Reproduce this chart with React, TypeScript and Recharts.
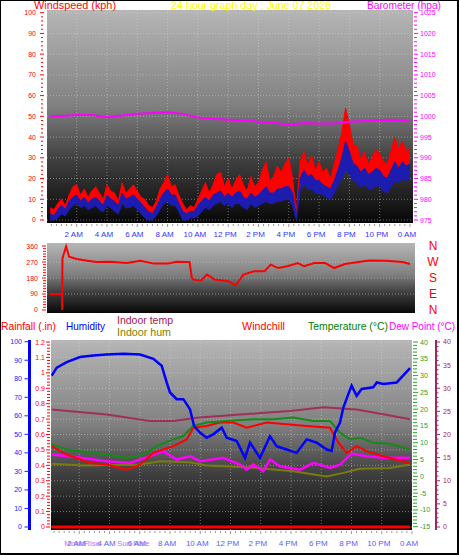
import React from 'react';
import { ComposedChart, Line, Area, XAxis, YAxis, CartesianGrid } from 'recharts';

const FONT = '"Liberation Sans", Arial, Helvetica, sans-serif';

// ---------- top panel: windspeed (kph) + barometer (hpa) ----------
const windHours = [
  0.25, 0.5, 0.75, 1, 1.25, 1.5, 1.75, 2, 2.25, 2.5, 2.75, 3, 3.25, 3.5, 3.75, 4, 4.25, 4.5, 4.75, 5, 5.25, 5.5, 5.75, 6,
  6.25, 6.5, 6.75, 7, 7.25, 7.5, 7.75, 8, 8.25, 8.5, 8.75, 9, 9.25, 9.5, 9.75, 10, 10.25, 10.5, 10.75, 11, 11.25, 11.5, 11.75, 12,
  12.25, 12.5, 12.75, 13, 13.25, 13.5, 13.75, 14, 14.25, 14.5, 14.75, 15, 15.25, 15.5, 15.75, 16, 16.25, 16.5, 16.75, 17, 17.25, 17.5, 17.75, 18,
  18.25, 18.5, 18.75, 19, 19.25, 19.5, 19.75, 20, 20.25, 20.5, 20.75, 21, 21.25, 21.5, 21.75, 22, 22.25, 22.5, 22.75, 23, 23.25, 23.5, 23.75, 24,
];
const gustHigh = [
  6, 5, 8, 10, 7, 12, 16, 17, 12, 15, 11, 14, 16, 13, 10, 17, 14, 13, 9, 18, 13, 15, 17, 14,
  11, 10, 7, 6, 9, 15, 18, 22, 16, 17, 12, 8, 5, 7, 6, 10, 14, 18, 13, 17, 22, 23, 16, 20,
  15, 19, 22, 17, 14, 21, 16, 18, 24, 28, 19, 21, 26, 23, 27, 30, 20, 4, 28, 33, 26, 31, 24, 28,
  23, 25, 20, 27, 34, 42, 54, 46, 36, 36, 29, 33, 27, 30, 34, 32, 28, 27, 33, 40, 34, 38, 33, 35,
];
const windHigh = [
  3, 2, 5, 7, 5, 9, 11, 12, 9, 11, 8, 10, 11, 9, 7, 12, 10, 9, 7, 13, 10, 11, 12, 10,
  8, 6, 4, 3, 6, 10, 13, 15, 12, 12, 8, 4, 3, 4, 4, 7, 9, 11, 9, 12, 13, 14, 11, 13,
  11, 13, 14, 11, 10, 13, 11, 12, 14, 16, 13, 13, 15, 15, 16, 16, 13, 2, 20, 24, 21, 22, 19, 19,
  17, 16, 15, 19, 24, 30, 38, 33, 27, 26, 23, 25, 22, 23, 25, 24, 21, 20, 24, 28, 25, 28, 26, 27,
];
const windLow = [
  0, 0, 1, 3, 2, 5, 7, 8, 6, 7, 5, 6, 7, 5, 4, 7, 6, 4, 3, 8, 6, 6, 7, 5,
  3, 1, 0, 0, 2, 5, 8, 9, 7, 7, 4, 0, 0, 1, 1, 2, 4, 6, 5, 7, 8, 9, 7, 8,
  6, 8, 8, 6, 5, 8, 6, 7, 8, 9, 8, 8, 9, 9, 10, 10, 7, 0, 14, 17, 15, 15, 13, 13,
  12, 11, 10, 13, 17, 20, 24, 22, 19, 18, 16, 17, 15, 15, 17, 16, 14, 13, 16, 19, 18, 20, 19, 20,
];

const baroHours = [0.25, 1, 2, 3, 4, 5, 6, 7, 8, 9, 10, 11, 12, 13, 14, 15, 16, 17, 18, 19, 20, 21, 22, 23, 24];
const barometer = [1000.0, 1000.1, 1000.3, 1000.3, 999.8, 1000.2, 1000.6, 1000.8, 1001.0, 1000.6, 999.7, 999.4, 999.2, 999.0, 998.7, 998.5, 997.9, 998.4, 998.3, 998.3, 998.7, 998.9, 999.1, 999.2, 998.8];

// ---------- middle panel: wind direction ----------
const dirHours = [0.24, 1.03, 1.04, 1.06, 1.3, 1.5, 2.0, 2.6, 3.3, 4.2, 5.3, 6.2, 7.1, 8.0, 8.6, 9.3, 9.45, 9.6, 9.7, 10.2, 10.6, 11.1, 12.0, 12.5, 13.0, 13.7, 14.4, 14.8, 15.3, 15.9, 16.6, 17.0, 17.7, 18.4, 19.0, 19.7, 20.6, 21.3, 22.4, 23.5, 24.0];
const dirDeg = [90, 90, 0, 290, 358, 300, 287, 279, 270, 272, 264, 277, 261, 261, 272, 270, 270, 180, 171, 165, 199, 171, 162, 138, 199, 218, 218, 255, 236, 246, 264, 246, 264, 264, 236, 259, 270, 279, 277, 270, 259];
const compassDeg = [0, 90, 180, 270, 360];
const compassLabels = ['N', 'E', 'S', 'W', 'N'];

// ---------- bottom panel ----------
const humHours = [0.18, 0.51, 1.17, 2.05, 2.93, 3.81, 4.92, 6.02, 6.9, 7.45, 7.78, 8.0, 8.44, 8.88, 9.32, 9.59, 9.98, 10.42, 10.86, 11.42, 11.75, 12.41, 12.96, 13.29, 13.95, 14.61, 15.05, 15.71, 16.37, 17.04, 17.7, 18.36, 18.69, 18.91, 19.24, 19.46, 19.79, 20.01, 20.34, 20.67, 21.44, 21.67, 22.1, 22.99, 23.87];
const humidity = [81.7, 86, 89, 91.7, 92.5, 93.1, 93.5, 93.1, 90.8, 87, 78, 72.6, 69, 69, 63.6, 54.5, 51, 48.2, 50, 53.6, 48.2, 46.4, 37.3, 45.5, 37.3, 49, 43.6, 41.8, 40, 47.3, 45.5, 41.8, 41, 51, 56.4, 64.5, 71.7, 76.3, 70.8, 74.5, 75.4, 78, 77.2, 78, 85.7];

const tempHours = [0.18, 1.17, 3.81, 5.14, 6.24, 7.12, 8.22, 8.88, 9.54, 10.42, 11.75, 13.51, 14.83, 16.15, 17.48, 18.58, 19.24, 19.9, 20.56, 21.44, 22.55, 23.87];
const temperature = [9.5, 8.0, 6.5, 5.5, 6.5, 9.0, 11.0, 12.0, 15.0, 16.0, 16.5, 17.0, 17.0, 17.5, 16.5, 16.5, 13.0, 11.0, 11.5, 10.0, 9.7, 8.0];

const chillHours = [0.18, 1.17, 2.71, 3.81, 4.69, 5.14, 6.02, 6.9, 8.22, 9.1, 9.54, 10.42, 11.31, 12.19, 13.07, 14.39, 15.71, 17.04, 18.58, 19.13, 19.68, 20.34, 21.0, 22.1, 23.87];
const windchill = [9.0, 6.5, 4.0, 3.5, 2.5, 2.0, 3.5, 7.0, 9.0, 11.0, 14.5, 15.0, 16.0, 16.0, 14.5, 16.0, 15.5, 15.0, 14.5, 10.0, 7.0, 9.0, 7.5, 6.0, 4.0];

const dewHours = [0.18, 1.61, 3.81, 5.36, 6.68, 7.56, 8.44, 9.32, 9.98, 11.53, 12.63, 13.07, 13.51, 14.17, 14.61, 15.27, 16.6, 17.48, 18.58, 19.24, 20.01, 21.0, 22.1, 23.87];
const dewPoint = [6.5, 5.8, 4.5, 4.0, 6.0, 7.5, 5.0, 6.0, 4.5, 5.5, 3.5, 2.0, 3.5, 1.5, 5.0, 3.0, 2.0, 4.0, 2.5, 3.5, 6.8, 6.0, 5.5, 5.5];

const inTempHours = [0.18, 3.81, 6.68, 8.22, 9.76, 12.63, 15.93, 18.14, 20.34, 22.55, 23.87];
const indoorTemp = [25.4, 24.3, 22.9, 22.9, 23.6, 24.3, 25.1, 25.9, 25.4, 24.1, 23.3];

const inHumHours = [0.18, 2.27, 6.02, 7.34, 9.32, 10.42, 13.73, 16.15, 18.36, 19.46, 20.56, 22.55, 23.87];
const indoorHum = [34.2, 33.2, 33.7, 35.5, 35, 33.2, 31.9, 30.1, 27.3, 29.2, 31.4, 31.9, 33.7];

const rainHours = [0.18, 23.87];
const rainfall = [0, 0];

// time axis labels
const labelHours = [2, 4, 6, 8, 10, 12, 14, 16, 18, 20, 22, 24];
const hourLabels = ['2 AM', '4 AM', '6 AM', '8 AM', '10 AM', '12 PM', '2 PM', '4 PM', '6 PM', '8 PM', '10 PM', '0 AM'];
const eventHours = [2.2, 5.56];
const eventLabels = ['MoonRise', 'Sun Rise'];

// helpers
const steps = (from: number, to: number, step: number) => {
  const out: number[] = [];
  const n = Math.round((to - from) / step);
  for (let i = 0; i <= n; i++) out.push(Math.round((from + i * step) * 1000) / 1000);
  return out;
};
const isMult = (v: number, step: number) => Math.abs(v / step - Math.round(v / step)) < 1e-6;
const zip = (hours: number[], values: number[]) => hours.map((t, i) => ({ t, v: values[i] }));

const minorHours = Array.from({ length: 72 }, (_, i) => (i + 1) / 3);
const gridHours = [2, 4, 6, 8, 10, 12, 14, 16, 18, 20, 22];

// gust band sits on top of the mean-speed band
const windData = windHours.map((t, i) => ({ t, gust: [windHigh[i], gustHigh[i]], wind: [windLow[i], windHigh[i]] }));

const hourText = (v: number) => {
  const h = Math.round(v);
  if (Math.abs(v - h) > 0.01) return null;
  const idx = labelHours.indexOf(h);
  return idx >= 0 ? hourLabels[idx] : null;
};

const TopHourTick = (p: any) => {
  const { x, y, payload } = p;
  const label = hourText(payload.value);
  return (
    <g>
      <line x1={x} x2={x} y1={y + 1} y2={y + (label ? 4 : 3)} stroke="#9a9a9a" />
      {label && (
        <text x={x - 3} y={y + 14} textAnchor="middle" fontSize={8} fill="#3333ff" fontFamily={FONT}>{label}</text>
      )}
    </g>
  );
};

const BottomHourTick = (p: any) => {
  const { x, y, payload } = p;
  const ev = eventHours.indexOf(payload.value);
  if (ev >= 0) {
    return (
      <text x={x} y={y + 15.5} textAnchor="middle" fontSize={8} fill="#b477ff" fontFamily={FONT}>{eventLabels[ev]}</text>
    );
  }
  const label = hourText(payload.value);
  return (
    <g>
      <line x1={x} x2={x} y1={y + 1} y2={y + (label ? 4 : 3)} stroke="#9a9a9a" />
      {label && (
        <text x={x - 3} y={y + 15.5} textAnchor="middle" fontSize={8} fill="#5a5aff" fontFamily={FONT}>{label}</text>
      )}
    </g>
  );
};

// generic y tick: side = -1 for left axes, 1 for right axes
const makeYTick = (opts: {
  side: number; color: string; major: number; t0: number; t1: number; minor0: number; minor1: number; gap: number; fmt?: (v: number) => string;
}) => (p: any) => {
  const { x, y, payload } = p;
  const v = payload.value;
  const isMajor = isMult(v, opts.major);
  const s = opts.side;
  return (
    <g>
      <line
        x1={x + s * (isMajor ? opts.t0 : opts.minor0)}
        x2={x + s * (isMajor ? opts.t1 : opts.minor1)}
        y1={y}
        y2={y}
        stroke={opts.color}
      />
      {isMajor && (
        <text x={x + s * opts.gap} y={y} dy={2.5} textAnchor={s < 0 ? 'end' : 'start'} fontSize={7} fill={opts.color} fontFamily={FONT}>
          {opts.fmt ? opts.fmt(v) : String(v)}
        </text>
      )}
    </g>
  );
};

const windTick = makeYTick({ side: -1, color: '#ff0000', major: 10, t0: 7, t1: 3, minor0: 6, minor1: 4, gap: 11 });
const baroTick = makeYTick({ side: 1, color: '#ff00ff', major: 5, t0: 1, t1: 5, minor0: 1, minor1: 4, gap: 7 });
const dirTick = makeYTick({ side: -1, color: '#ff0000', major: 90, t0: 5, t1: 1, minor0: 4, minor1: 1, gap: 9 });
const humTick = makeYTick({ side: -1, color: '#2020ff', major: 10, t0: 5, t1: 0, minor0: 0, minor1: 0, gap: 7.5 });
const rainTick = makeYTick({
  side: -1, color: '#ff0000', major: 0.1, t0: 5, t1: 1, minor0: 4, minor1: 1, gap: 6,
  fmt: (v) => String(Math.round(v * 10) / 10),
});
const tempTick = makeYTick({ side: 1, color: '#28a028', major: 5, t0: 1, t1: 6, minor0: 1, minor1: 5, gap: 8 });
const inTempTick = makeYTick({ side: 1, color: '#a0285a', major: 5, t0: 0, t1: 4, minor0: 0, minor1: 2.5, gap: 7 });

const CompassTick = (p: any) => {
  const { x, y, payload } = p;
  const idx = compassDeg.indexOf(payload.value);
  return (
    <text x={x + 18} y={y} dy={4} textAnchor="middle" fontSize={12} fill="#ff0000" fontFamily={FONT}>
      {compassLabels[idx]}
    </text>
  );
};

const BgGradient: React.FC<{ id: string }> = ({ id }) => (
  <linearGradient id={id} x1="0" y1="0" x2="0" y2="1">
    <stop offset="0%" stopColor="#b6b6b6" />
    <stop offset="45%" stopColor="#808080" />
    <stop offset="70%" stopColor="#404040" />
    <stop offset="100%" stopColor="#070707" />
  </linearGradient>
);

const gridStyle = { stroke: '#dcdcdc', strokeOpacity: 0.45, strokeDasharray: '1 2' };

const headers = [
  { text: 'Windspeed (kph)', x: 34, y: 9, len: 82, size: 11, color: '#ff0000' },
  { text: '24 hour graph day : June 07 2026', x: 171, y: 9, len: 160, size: 11, color: '#ffff00' },
  { text: 'Barometer (hpa)', x: 367, y: 9, len: 74, size: 11, color: '#ff00ff' },
  { text: 'Rainfall (.in)', x: 1, y: 330, len: 55, size: 11, color: '#ff0000' },
  { text: 'Humidity', x: 66, y: 330, len: 39, size: 11, color: '#0000ff' },
  { text: 'Indoor temp', x: 117, y: 323.5, len: 56, size: 11, color: '#a01850' },
  { text: 'Indoor hum', x: 117, y: 335.5, len: 54, size: 11, color: '#808000' },
  { text: 'Windchill', x: 242, y: 330, len: 43, size: 11, color: '#ff0000' },
  { text: 'Temperature (°C)', x: 308, y: 330, len: 80, size: 11, color: '#008000' },
  { text: 'Dew Point (°C)', x: 389, y: 330, len: 66, size: 10, color: '#ff00ff' },
];

const App: React.FC = () => {
  return (
    <div style={{ position: 'absolute', left: 0, top: 0, width: 459, height: 555, background: '#ffffff', overflow: 'hidden' }}>
      {/* wind speed + barometer */}
      <div style={{ position: 'absolute', left: 0, top: 0 }}>
        <ComposedChart width={459} height={245} margin={{ top: 10, right: 0, bottom: 0, left: 0 }}>
          <defs>
            <BgGradient id="bgTop" />
          </defs>
          <CartesianGrid xAxisId="t" yAxisId="ws" fill="url(#bgTop)" {...gridStyle} horizontalValues={steps(0, 100, 10)} verticalValues={gridHours} />
          <XAxis xAxisId="t" type="number" dataKey="t" domain={[0.04, 24.2]} allowDataOverflow ticks={minorHours} interval={0}
            axisLine={false} tickLine={false} tickSize={0} tickMargin={0} height={22} tick={TopHourTick} />
          <YAxis yAxisId="ws" orientation="left" type="number" width={47} domain={[-1.45, 101.3]} allowDataOverflow
            ticks={steps(0, 100, 2)} interval={0} axisLine={false} tickLine={false} tickSize={0} tickMargin={0} tick={windTick} />
          <YAxis yAxisId="baro" orientation="right" type="number" width={46} domain={[974.28, 1025.65]} allowDataOverflow
            ticks={steps(975, 1025, 1)} interval={0} axisLine={false} tickLine={false} tickSize={0} tickMargin={0} tick={baroTick} />
          <Area xAxisId="t" yAxisId="ws" data={windData} dataKey="gust" type="linear" stroke="#ff0000" strokeWidth={1}
            fill="#ff0000" fillOpacity={1} dot={false} activeDot={false} isAnimationActive={false} />
          <Area xAxisId="t" yAxisId="ws" data={windData} dataKey="wind" type="linear" stroke="#1c1cb0" strokeWidth={1}
            fill="#1c1cb0" fillOpacity={1} dot={false} activeDot={false} isAnimationActive={false} />
          <Line xAxisId="t" yAxisId="baro" data={zip(baroHours, barometer)} dataKey="v" type="linear" stroke="#ff00ff"
            strokeWidth={2} dot={false} activeDot={false} isAnimationActive={false} />
        </ComposedChart>
      </div>

      {/* wind direction */}
      <div style={{ position: 'absolute', left: 0, top: 238 }}>
        <ComposedChart width={459} height={78} margin={{ top: 5, right: 0, bottom: 3, left: 0 }}>
          <defs>
            <BgGradient id="bgMid" />
          </defs>
          <CartesianGrid xAxisId="t" yAxisId="dir" fill="url(#bgMid)" {...gridStyle} vertical={false} horizontalValues={[90, 180, 270]} />
          <XAxis xAxisId="t" type="number" dataKey="t" domain={[0.04, 24.33]} allowDataOverflow hide />
          <YAxis yAxisId="dir" orientation="left" type="number" width={47} domain={[-17, 377]} allowDataOverflow
            ticks={steps(0, 360, 15)} interval={0} axisLine={false} tickLine={false} tickSize={0} tickMargin={0} tick={dirTick} />
          <YAxis yAxisId="compass" orientation="right" type="number" width={44} domain={[-17, 377]} allowDataOverflow
            ticks={compassDeg} interval={0} axisLine={false} tickLine={false} tickSize={0} tickMargin={0} tick={CompassTick} />
          <Line xAxisId="t" yAxisId="dir" data={zip(dirHours, dirDeg)} dataKey="v" type="linear" stroke="#ff0000"
            strokeWidth={2} dot={false} activeDot={false} isAnimationActive={false} />
        </ComposedChart>
      </div>

      {/* humidity, rain, temperatures */}
      <div style={{ position: 'absolute', left: 0, top: 335 }}>
        <ComposedChart width={459} height={220} margin={{ top: 5, right: 0, bottom: 0, left: 0 }}>
          <defs>
            <BgGradient id="bgBot" />
          </defs>
          <CartesianGrid xAxisId="t" yAxisId="a_rain" fill="url(#bgBot)" {...gridStyle} horizontalValues={steps(0, 1.2, 0.1)} verticalValues={gridHours} />
          <XAxis xAxisId="t" type="number" dataKey="t" domain={[0.13, 24]} allowDataOverflow ticks={[...minorHours, ...eventHours]} interval={0}
            axisLine={false} tickLine={false} tickSize={0} tickMargin={0} height={25} tick={BottomHourTick} />
          <YAxis yAxisId="a_rain" orientation="left" type="number" width={21.5} domain={[-0.0195, 1.213]} allowDataOverflow
            ticks={steps(0, 1.2, 0.02)} interval={0} axisLine={false} tickLine={false} tickSize={0} tickMargin={0} tick={rainTick} />
          <YAxis yAxisId="b_hum" orientation="left" type="number" width={29.5} domain={[-1.62, 100.92]} allowDataOverflow
            ticks={steps(0, 100, 10)} interval={0} axisLine={{ stroke: '#0000ff', strokeWidth: 3 }} tickLine={false}
            tickSize={0} tickMargin={0} tick={humTick} />
          <YAxis yAxisId="b_intemp" orientation="right" type="number" width={23} domain={[-0.65, 40.43]} allowDataOverflow
            ticks={steps(0, 40, 1)} interval={0} axisLine={{ stroke: '#a0285a', strokeWidth: 2 }} tickLine={false}
            tickSize={0} tickMargin={0} tick={inTempTick} />
          <YAxis yAxisId="a_temp" orientation="right" type="number" width={24} domain={[-15.98, 40.6]} allowDataOverflow
            ticks={steps(-15, 40, 1)} interval={0} axisLine={false} tickLine={false} tickSize={0} tickMargin={0} tick={tempTick} />
          <Line xAxisId="t" yAxisId="b_hum" data={zip(inHumHours, indoorHum)} dataKey="v" stroke="#7a7a10" strokeWidth={2}
            dot={false} activeDot={false} isAnimationActive={false} />
          <Line xAxisId="t" yAxisId="b_intemp" data={zip(inTempHours, indoorTemp)} dataKey="v" stroke="#a0305a" strokeWidth={2}
            dot={false} activeDot={false} isAnimationActive={false} />
          <Line xAxisId="t" yAxisId="a_temp" data={zip(dewHours, dewPoint)} dataKey="v" stroke="#ff00ff" strokeWidth={2.5}
            dot={false} activeDot={false} isAnimationActive={false} />
          <Line xAxisId="t" yAxisId="a_temp" data={zip(chillHours, windchill)} dataKey="v" stroke="#ff0000" strokeWidth={2}
            dot={false} activeDot={false} isAnimationActive={false} />
          <Line xAxisId="t" yAxisId="a_temp" data={zip(tempHours, temperature)} dataKey="v" stroke="#168a16" strokeWidth={2}
            dot={false} activeDot={false} isAnimationActive={false} />
          <Line xAxisId="t" yAxisId="b_hum" data={zip(humHours, humidity)} dataKey="v" stroke="#0000ff" strokeWidth={2.5}
            dot={false} activeDot={false} isAnimationActive={false} />
          <Line xAxisId="t" yAxisId="a_rain" data={zip(rainHours, rainfall)} dataKey="v" stroke="#ff0000" strokeWidth={3}
            dot={false} activeDot={false} isAnimationActive={false} />
        </ComposedChart>
      </div>

      {/* titles */}
      <svg width={459} height={555} style={{ position: 'absolute', left: 0, top: 0, pointerEvents: 'none' }}>
        {headers.map((h) => (
          <text key={h.text} x={h.x} y={h.y} fontSize={h.size} fill={h.color} fontFamily={FONT}
            textLength={h.len} lengthAdjust="spacingAndGlyphs">
            {h.text}
          </text>
        ))}
      </svg>

      {/* frame */}
      <div style={{
        position: 'absolute', left: 0, top: 0, width: 459, height: 555, boxSizing: 'border-box',
        borderLeft: '1px solid #000', borderTop: '1px solid #000', borderRight: '2px solid #000', borderBottom: '2px solid #000',
        pointerEvents: 'none',
      }} />
    </div>
  );
};

export default App;
